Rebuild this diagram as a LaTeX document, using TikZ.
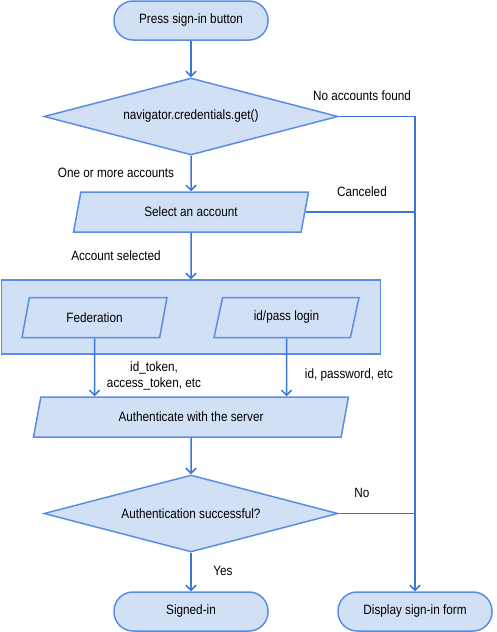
\documentclass[tikz,border=0pt]{standalone}
\usepackage{fontspec}
\setmainfont[FakeStretch=0.87]{Liberation Sans}
\usetikzlibrary{arrows.meta,shapes.geometric}
\definecolor{boxfill}{HTML}{D2E0F5}
\definecolor{boxline}{HTML}{5B8DE4}
\definecolor{flowline}{HTML}{3A76D6}

\begin{document}
\begin{tikzpicture}
	[x=1pt,y=-1pt,every node/.style={font=\fontsize{13.5}{16}\selectfont},
	term/.style={rectangle,rounded corners=19pt,draw=boxline,fill=boxfill,line width=1.5pt,minimum width=154pt,minimum height=39pt},
	decision/.style={diamond,aspect=3.8,draw=boxline,fill=boxfill,line width=1.5pt,minimum width=294pt,minimum height=77pt,inner sep=0pt},
	io/.style={trapezium,trapezium left angle=66,trapezium right angle=114,trapezium stretches body,draw=boxline,fill=boxfill,line width=1.5pt,minimum height=40pt},
	group/.style={rectangle,draw=boxline,fill=boxfill,line width=1.5pt,minimum width=379pt,minimum height=74pt},
	edge/.style={->,>={Straight Barb[length=5pt,width=10pt]},draw=flowline,line width=1.5pt},
	joinline/.style={draw=flowline,line width=1.5pt}]
	\useasboundingbox (0,0) rectangle (496,632);
	
	\node[term] (start) at (191,20.5) {Press sign-in button};
	\node[decision] (get) at (191,116.5) {navigator.credentials.get()};
	\node[io,minimum width=235pt] (select) at (191,212) {Select an account};
	\node[group] (login) at (191,317) {};
	\node[io,minimum width=145pt] (fed) at (94.5,317.5) {Federation};
	\node[io,minimum width=145pt] (idpass) at (286.5,317.5) {id/pass login};
	\node[io,minimum width=315pt] (auth) at (191,417) {Authenticate with the server};
	\node[decision] (success) at (191,513.5) {Authentication successful?};
	\node[term] (signed) at (191,611.5) {Signed-in};
	\node[term] (form) at (415,611.5) {Display sign-in form};
	
	\node (nofound) at (362,96) {No accounts found};
	\node (oneormore) at (116,173) {One or more accounts};
	\node (canceled) at (362,192) {Canceled};
	\node (selected) at (116,256) {Account selected};
	\node[align=center] (tokens) at (154,376) {id\_token,\\access\_token, etc};
	\node (pwd) at (349,375) {id, password, etc};
	\node (no) at (362,493) {No};
	\node (yes) at (223,571) {Yes};
	
	\coordinate (rail) at (415,116.5);
	
	\foreach \from/\to in {start/get,get/select,select/login,auth/success,success/signed}
	\draw[edge] (\from) -- (\to);
	
	\draw[edge] (fed) -- (fed |- auth.north);
	\draw[edge] (idpass) -- (idpass |- auth.north);
	\draw[edge] (get.east) -- (rail) -- (form);
	\draw[joinline] (select.east) -- (select.east -| rail);
	\draw[joinline] (success.east) -- (success.east -| rail);
\end{tikzpicture}
\end{document}
